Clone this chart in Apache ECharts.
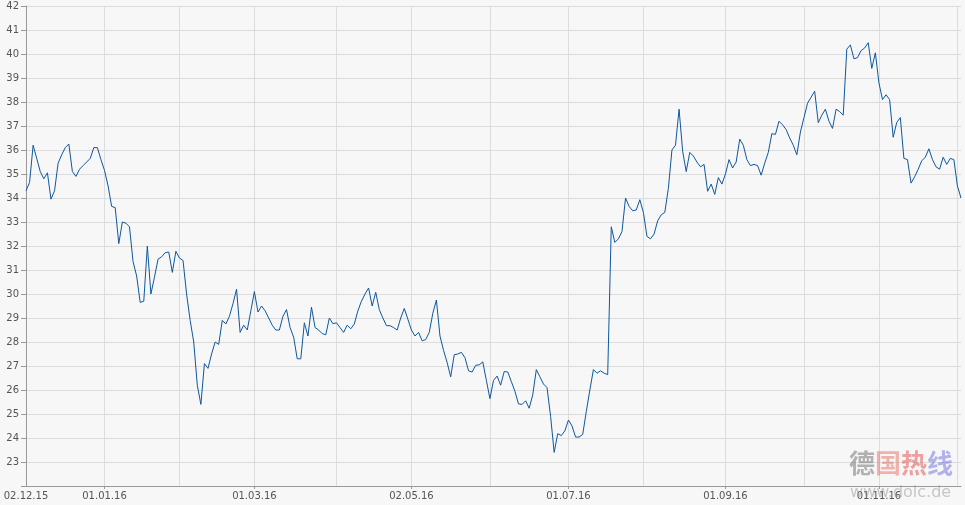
<!DOCTYPE html>
<html>
<head>
<meta charset="utf-8">
<script src="https://cdn.jsdelivr.net/npm/echarts@6/dist/echarts.min.js"></script>
<style>
html,body{margin:0;padding:0;background:#f7f7f7;}
#chart{width:965px;height:505px;}
</style>
</head>
<body>
<div id="chart"></div>
<script>
// ---- data ----
var startDate = '2015-12-02';
var endDate = '2016-12-02';
var yTicks = [22, 42, 1]; // min, max, step
var prices = [
34.3,34.65,36.2,35.65,35.1,34.8,35.05,33.95,34.3,35.45,
35.8,36.1,36.25,35.1,34.9,35.2,35.35,35.5,35.65,36.1,
36.1,35.6,35.15,34.5,33.65,33.6,32.1,33.0,32.95,32.8,
31.35,30.75,29.65,29.7,32.0,30.0,30.7,31.45,31.55,31.72,
31.75,30.9,31.78,31.5,31.4,30.0,28.9,28.0,26.2,25.4,
27.1,26.9,27.5,28.0,27.9,28.9,28.75,29.07,29.6,30.2,
28.4,28.7,28.5,29.3,30.1,29.25,29.5,29.3,29.0,28.7,
28.5,28.5,29.07,29.35,28.6,28.2,27.3,27.3,28.8,28.25,
29.45,28.6,28.5,28.35,28.3,29.0,28.76,28.8,28.6,28.4,
28.7,28.55,28.75,29.3,29.7,30.0,30.25,29.5,30.07,29.35,
29.0,28.68,28.68,28.6,28.5,29.0,29.4,28.95,28.5,28.25,
28.4,28.05,28.1,28.4,29.2,29.75,28.25,27.65,27.15,26.55,
27.47,27.5,27.57,27.35,26.8,26.75,27.03,27.05,27.17,26.4,
25.64,26.4,26.58,26.2,26.77,26.75,26.35,25.95,25.42,25.4,
25.55,25.24,25.8,26.85,26.55,26.25,26.1,24.9,23.4,24.18,
24.1,24.3,24.75,24.5,24.04,24.04,24.15,25.1,26.0,26.85,
26.7,26.8,26.7,26.64,32.8,32.15,32.3,32.6,34.0,33.65,
33.47,33.5,33.93,33.4,32.4,32.3,32.5,33.05,33.3,33.4,
34.4,36.0,36.2,37.7,35.95,35.1,35.9,35.75,35.5,35.3,
35.4,34.28,34.58,34.15,34.85,34.58,35.0,35.6,35.25,35.5,
36.45,36.2,35.6,35.35,35.4,35.35,34.95,35.45,35.9,36.68,
36.65,37.2,37.05,36.85,36.5,36.2,35.8,36.75,37.35,37.95,
38.2,38.45,37.14,37.45,37.7,37.2,36.9,37.7,37.6,37.45,
40.2,40.38,39.8,39.85,40.14,40.25,40.47,39.4,40.05,38.8,
38.1,38.3,38.1,36.53,37.15,37.35,35.65,35.6,34.62,34.88,
35.2,35.55,35.7,36.05,35.6,35.3,35.2,35.7,35.4,35.65,
35.6,34.5,34.0
];

// trading-day categories (weekdays)
function pad(n){return (n<10?'0':'')+n;}
var categories = [];
(function(){
  var d = new Date(startDate + 'T00:00:00Z');
  var e = new Date(endDate + 'T00:00:00Z');
  while (d <= e) {
    var wd = d.getUTCDay();
    if (wd !== 0 && wd !== 6) {
      categories.push(pad(d.getUTCDate()) + '.' + pad(d.getUTCMonth()+1) + '.' + String(d.getUTCFullYear()).slice(2));
    }
    d.setUTCDate(d.getUTCDate()+1);
  }
})();
function monthOf(i){return categories[i].slice(3,5);}
function isMonthStart(i){return i>0 && monthOf(i)!==monthOf(i-1);}
function isLabel(i){return i===0 || (isMonthStart(i) && (parseInt(monthOf(i),10)%2===1));}

var chart = echarts.init(document.getElementById('chart'), null, {renderer:'canvas'});
var font = 'DejaVu Sans, Verdana, sans-serif';
chart.setOption({
  backgroundColor: '#f7f7f7',
  animation: false,
  grid: {left: 26, right: 4, top: 6, bottom: 19, containLabel: false},
  xAxis: {
    type: 'category',
    data: categories,
    boundaryGap: false,
    axisLine: {show: true, lineStyle: {color: '#999', width: 1}},
    axisTick: {show: true, length: 3, interval: function(i){return isLabel(i) && i>0;}, lineStyle: {color: '#999'}},
    axisLabel: {
      interval: function(i){return isLabel(i);},
      color: '#555', fontFamily: font, fontSize: 10, margin: 5,
      hideOverlap: false
    },
    splitLine: {show: true, interval: function(i){return isMonthStart(i);}, lineStyle: {color: '#dcdcdc', width: 1}}
  },
  yAxis: {
    type: 'value',
    min: yTicks[0], max: yTicks[1], interval: yTicks[2],
    axisLine: {show: true, lineStyle: {color: '#999', width: 1}},
    axisTick: {show: true, length: 5, lineStyle: {color: '#999'}},
    axisLabel: {
      color: '#555', fontFamily: font, fontSize: 10, margin: 7,
      formatter: function(v){return v === yTicks[0] ? '' : String(v);}
    },
    splitLine: {show: true, lineStyle: {color: '#dcdcdc', width: 1}}
  },
  graphic: [
    {
      type: 'text', left: 849, top: 450, silent: true, z: 100,
      style: {
        text: '{a|德}{b|国}{c|热}{d|线}',
        rich: {
          a: {fill: 'rgba(130,130,130,0.6)', font: 'bold 26px "Noto Sans CJK SC"'},
          b: {fill: 'rgba(235,120,110,0.55)', font: 'bold 26px "Noto Sans CJK SC"'},
          c: {fill: 'rgba(230,90,90,0.55)', font: 'bold 26px "Noto Sans CJK SC"'},
          d: {fill: 'rgba(120,120,230,0.55)', font: 'bold 26px "Noto Sans CJK SC"'}
        }
      }
    },
    {
      type: 'text', left: 850, top: 485, silent: true, z: 100,
      style: {text: 'www.dolc.de', fill: 'rgba(150,150,150,0.5)', font: '16px "DejaVu Sans"'}
    }
  ],
  series: [{
    type: 'line',
    data: prices,
    showSymbol: false,
    symbol: 'none',
    lineStyle: {color: '#0d58a0', width: 1},
    z: 5
  }]
});
</script>
</body>
</html>
